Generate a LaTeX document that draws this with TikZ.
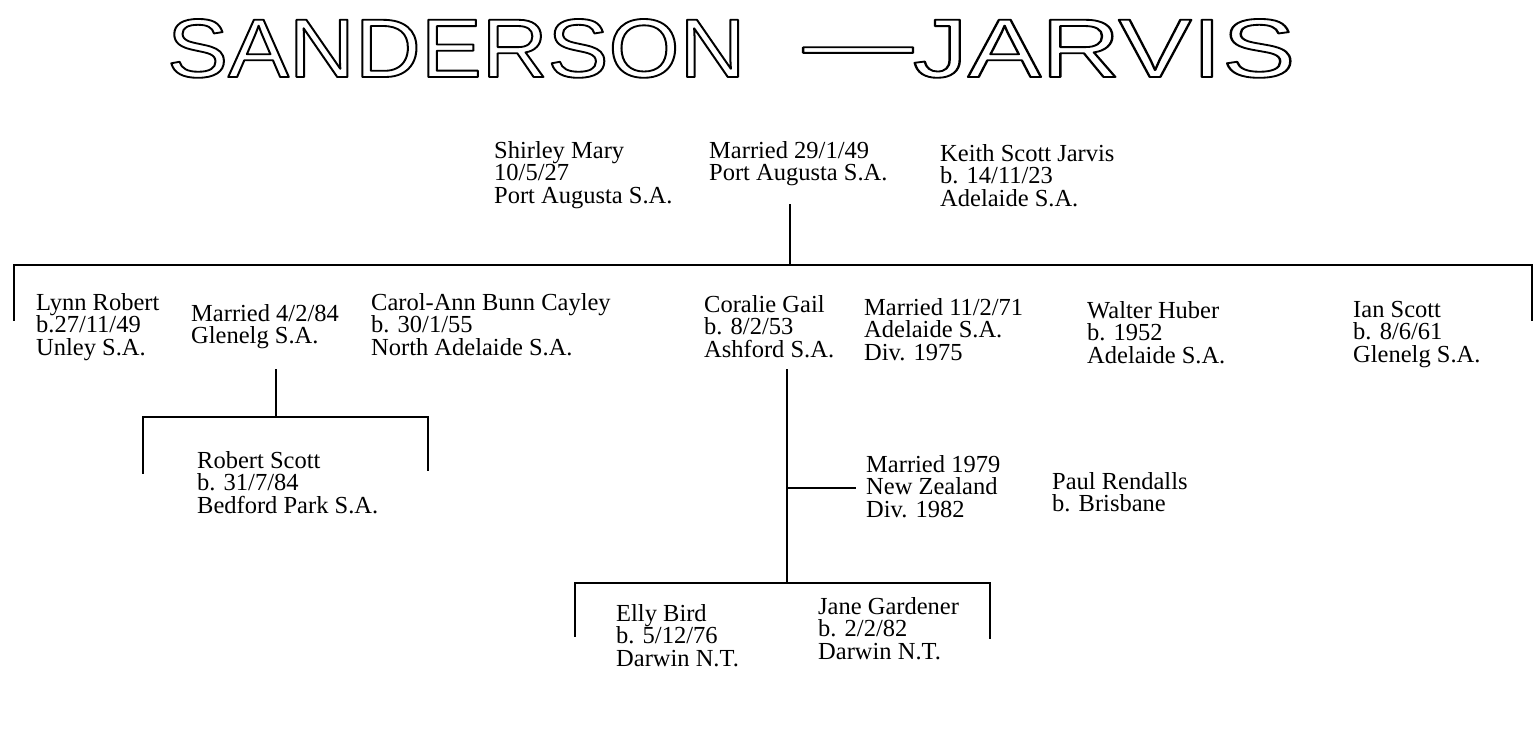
\documentclass[tikz,border=0pt]{standalone}
\usepackage{fontspec}
\setmainfont{Liberation Serif}
\newfontfamily\titlefont{Liberation Sans}
\usepackage{graphicx}
\newcommand{\outlinetext}[1]{\special{pdf:literal direct 1 Tr 0.22 w 1 j}#1\special{pdf:literal direct 0 Tr}}
\begin{document}
\begin{tikzpicture}[x=1pt,y=-1pt,
  txt/.style={anchor=north west,inner sep=0pt,align=left,font=\fontsize{24.5}{22.5}\selectfont},
  ttl/.style={anchor=south west,inner sep=0pt,font=\titlefont},
  link/.style={line width=2.2pt,line cap=rect}]
\useasboundingbox (0,0) rectangle (1539,730);
% parents
\node[txt] (sm) at (494,141) {Shirley Mary\\10/5/27\\Port Augusta S.A.};
\node[txt] (m1) at (709,141) {Married 29/1/49\\Port Augusta S.A.};
\node[txt] (ksj) at (940,144) {Keith Scott Jarvis\\b. 14/11/23\\Adelaide S.A.};
% children row
\node[txt] (lr) at (36,293) {Lynn Robert\\b.27/11/49\\Unley S.A.};
\node[txt] (m2) at (191,304) {Married 4/2/84\\Glenelg S.A.};
\node[txt] (cab) at (371,293) {Carol-Ann Bunn Cayley\\b. 30/1/55\\North Adelaide S.A.};
\node[txt] (cg) at (704,295) {Coralie Gail\\b. 8/2/53\\Ashford S.A.};
\node[txt] (m3) at (864,298) {Married 11/2/71\\Adelaide S.A.\\Div. 1975};
\node[txt] (wh) at (1087,301) {Walter Huber\\b. 1952\\Adelaide S.A.};
\node[txt] (is) at (1353,301) {Ian Scott\\b. 8/6/61\\Glenelg S.A.};
% grandchildren
\node[txt] (rs) at (197,451) {Robert Scott\\b. 31/7/84\\Bedford Park S.A.};
\node[txt] (m4) at (866,455) {Married 1979\\New Zealand\\Div. 1982};
\node[txt] (pr) at (1052,472) {Paul Rendalls\\b. Brisbane};
\node[txt] (eb) at (616,604) {Elly Bird\\b. 5/12/76\\Darwin N.T.};
\node[txt] (jg) at (818,597) {Jane Gardener\\b. 2/2/82\\Darwin N.T.};
% junction coordinates
\coordinate (p1) at (790,205);
\coordinate (j1) at (790,265);
\coordinate (L0) at (14,265);
\coordinate (R0) at (1532,265);
\coordinate (Lt) at (14,320);
\coordinate (Rt) at (1532,320);
\coordinate (p2) at (276,370);
\coordinate (j2) at (276,417);
\coordinate (L2) at (143,417);
\coordinate (R2) at (428,417);
\coordinate (L2t) at (143,473);
\coordinate (R2t) at (428,470);
\coordinate (p3) at (787,370);
\coordinate (b3) at (787,488);
\coordinate (e3) at (855,488);
\coordinate (j3) at (787,583);
\coordinate (L3) at (575,583);
\coordinate (R3) at (990,583);
\coordinate (L3t) at (575,636);
\coordinate (R3t) at (990,638);
% connectors
\draw[link] (p1) -- (j1);
\draw[link] (Lt) -- (L0) -- (R0) -- (Rt);
\draw[link] (p2) -- (j2);
\draw[link] (L2t) -- (L2) -- (R2) -- (R2t);
\draw[link] (p3) -- (j3);
\draw[link] (b3) -- (e3);
\draw[link] (L3t) -- (L3) -- (R3) -- (R3t);
% title (drawn last)
\node[ttl] (t1) at (167,78) {\resizebox{578pt}{58pt}{\outlinetext{SANDERSON}}};
\node[ttl] (t2) at (803,78) {\resizebox{492pt}{58pt}{\outlinetext{\raisebox{0.07em}{—}JARVIS}}};
\end{tikzpicture}
\end{document}
